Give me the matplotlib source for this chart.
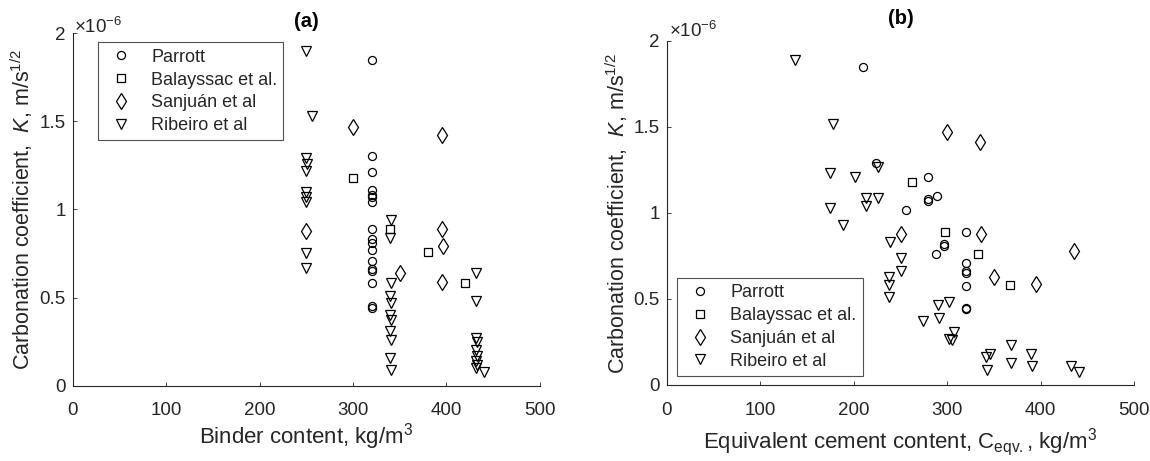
import matplotlib
matplotlib.use("Agg")
import matplotlib.pyplot as plt
from matplotlib.ticker import FormatStrFormatter
from matplotlib.transforms import offset_copy

plt.rcParams['font.family'] = ['Liberation Sans', 'DejaVu Sans']
plt.rcParams['mathtext.fontset'] = 'custom'
plt.rcParams['mathtext.rm'] = 'Liberation Sans'
plt.rcParams['mathtext.it'] = 'Liberation Sans:italic'

# K values in units of 1e-6 m/s^(1/2)
# (a) binder content, kg/m3
parrott_bind = [320] * 17
parrott_k_a = [1.85, 1.30, 1.21, 1.11, 1.08, 1.07, 1.04, 0.89, 0.83, 0.81, 0.77, 0.71, 0.66, 0.65, 0.58, 0.45, 0.44]
balay_bind = [300, 340, 380, 420]
balay_k_a = [1.18, 0.89, 0.76, 0.58]
sanj_bind = [250, 300, 350, 395, 395, 396, 395]
sanj_k_a = [0.88, 1.47, 0.64, 1.42, 0.89, 0.79, 0.59]
ribeiro_bind = [250, 256, 250, 251, 250, 250, 250, 250, 250, 250,
                341, 340, 341, 340, 341, 340, 341, 340, 341, 340, 341,
                432, 432, 432, 433, 432, 433, 432, 433, 432, 440]
ribeiro_k_a = [1.90, 1.53, 1.29, 1.26, 1.22, 1.10, 1.07, 1.04, 0.75, 0.67,
               0.94, 0.84, 0.58, 0.51, 0.47, 0.40, 0.37, 0.31, 0.26, 0.16, 0.09,
               0.64, 0.48, 0.27, 0.25, 0.20, 0.17, 0.14, 0.12, 0.10, 0.08]

# (b) equivalent cement content, kg/m3
parrott_ceq = [210, 224, 279, 279, 279, 289, 256, 320, 296, 296, 288, 320, 320, 320, 320, 320, 320]
parrott_k_b = [1.85, 1.29, 1.21, 1.08, 1.07, 1.10, 1.02, 0.89, 0.82, 0.81, 0.76, 0.71, 0.66, 0.65, 0.575, 0.45, 0.44]
balay_ceq = [262, 298, 333, 367]
balay_k_b = [1.18, 0.89, 0.76, 0.58]
sanj_ceq = [300, 335, 250, 336, 350, 395, 436]
sanj_k_b = [1.47, 1.41, 0.88, 0.88, 0.63, 0.59, 0.78]
ribeiro_ceq = [137, 178, 175, 201, 226, 213, 226, 213, 175, 188, 239, 251, 251, 238, 238, 238,
               290, 302, 291, 274, 307, 302, 305, 346, 341, 342, 368, 368, 390, 391, 432, 441]
ribeiro_k_b = [1.89, 1.52, 1.23, 1.21, 1.27, 1.09, 1.09, 1.04, 1.03, 0.93, 0.83, 0.74, 0.66, 0.63, 0.58, 0.51,
               0.465, 0.48, 0.39, 0.37, 0.31, 0.27, 0.26, 0.18, 0.165, 0.087, 0.23, 0.13, 0.18, 0.11, 0.11, 0.077]

labels = ['Parrott', 'Balayssac et al.', 'Sanjuán et al', 'Ribeiro et al']
gray = '#262626'

fig = plt.figure(figsize=(11.5, 4.61), dpi=100)
ax1 = fig.add_axes([0.0631, 0.1633, 0.4064, 0.765])
ax2 = fig.add_axes([0.5799, 0.1649, 0.4064, 0.7462])

# marker, size for each study
styles = [('o', 5.8), ('s', 5.2), ('d', 7.8), ('v', 7.0)]


def draw(ax, xs, ys, exp_dy):
    for x, y, (m, ms), lab in zip(xs, ys, styles, labels):
        ax.plot(x, y, linestyle='none', marker=m, markersize=ms, markerfacecolor='none',
                markeredgecolor='k', markeredgewidth=0.9, label=lab)
    ax.set_xlim(0, 500)
    ax.set_ylim(0, 2)
    ax.set_xticks([0, 100, 200, 300, 400, 500])
    ax.set_yticks([0, 0.5, 1, 1.5, 2])
    ax.yaxis.set_major_formatter(FormatStrFormatter('%g'))
    for s in ['top', 'right']:
        ax.spines[s].set_visible(False)
    for s in ['left', 'bottom']:
        ax.spines[s].set_color(gray)
        ax.spines[s].set_linewidth(0.8)
    ax.tick_params(direction='in', length=3, width=0.6, colors=gray, labelsize=13.5)
    ax.tick_params(axis='x', pad=12)
    ax.tick_params(axis='y', pad=5)
    ax.set_ylabel('Carbonation coefficient,  $K$, m/s$^{1/2}$', fontsize=15.5, color=gray, labelpad=3)
    tr = offset_copy(ax.transAxes, fig=fig, x=0, y=exp_dy, units='dots')
    ax.text(0.004, 1.0, r'$\times$10$^{-6}$', transform=tr, fontsize=13.5, color=gray,
            ha='left', va='baseline')


draw(ax1, [parrott_bind, balay_bind, sanj_bind, ribeiro_bind],
     [parrott_k_a, balay_k_a, sanj_k_a, ribeiro_k_a], 0)
draw(ax2, [parrott_ceq, balay_ceq, sanj_ceq, ribeiro_ceq],
     [parrott_k_b, balay_k_b, sanj_k_b, ribeiro_k_b], 4)

ax1.set_xlabel('Binder content, kg/m$^3$', fontsize=16, color=gray, labelpad=1.5)
ax2.set_xlabel('Equivalent cement content, C$_{\\rm eqv.}$, kg/m$^3$', fontsize=16, color=gray, labelpad=5)
ax1.set_title('(a)', fontsize=14.5, fontweight='bold', pad=4)
ax2.set_title('(b)', fontsize=14.5, fontweight='bold', pad=12)

leg_kw = dict(fontsize=13, frameon=True, fancybox=False, borderaxespad=0, borderpad=0.35,
              handlelength=1.9, handletextpad=0.7, labelspacing=0.32)
l1 = ax1.legend(loc='upper left', bbox_to_anchor=(0.085, 0.908), bbox_transform=fig.transFigure, **leg_kw)
l2 = ax2.legend(loc='lower left', bbox_to_anchor=(0.5887, 0.1844), bbox_transform=fig.transFigure, **leg_kw)
for lg in (l1, l2):
    lg.get_frame().set_edgecolor(gray)
    lg.get_frame().set_linewidth(0.8)
    for t in lg.get_texts():
        t.set_color(gray)

fig.savefig('out.png', dpi=100)
